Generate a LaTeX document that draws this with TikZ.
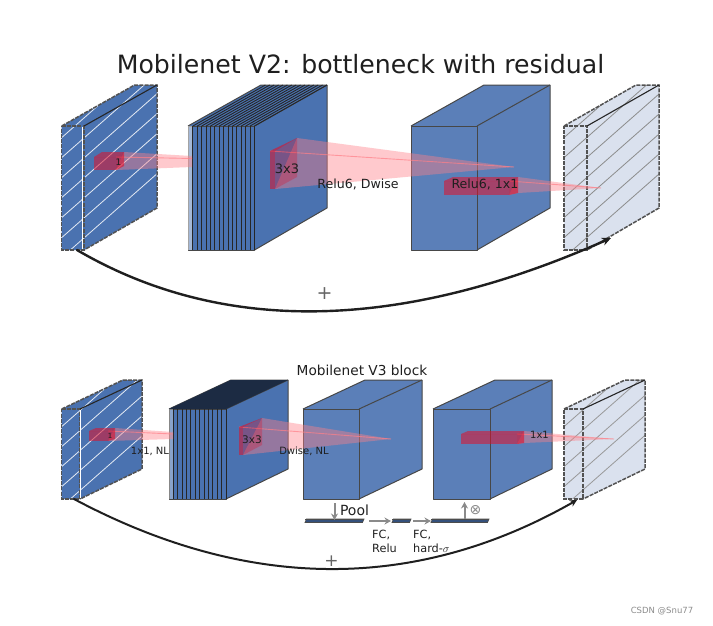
\documentclass[tikz,border=0pt]{standalone}
\usepackage{fontspec}
\setmainfont{DejaVu Sans}
\usetikzlibrary{arrows.meta}
\definecolor{blueA}{HTML}{4A72B0}
\definecolor{blueB}{HTML}{5B7FB8}
\definecolor{paleB}{HTML}{DAE1EE}
\definecolor{inkC}{HTML}{1F1F1F}
\definecolor{greyC}{HTML}{8A8A8A}
\definecolor{redC}{HTML}{E0102A}
\definecolor{pinkC}{HTML}{FF8088}
\tikzset{
  lab/.style={inner sep=0pt,text=inkC,font=\fontsize{#1}{#1}\selectfont},
  solidedge/.style={draw=black!72,line width=1pt,line join=round},
  hatchedge/.style={draw=black!68,line width=1.5pt,dash pattern=on 4pt off 1.2pt},
  coneA/.style={fill=pinkC,fill opacity=.42,draw=none},
  coneB/.style={draw=pinkC,draw opacity=.7,line width=.9pt},
  boxred/.style={fill=redC,fill opacity=.55,draw=none},
  boxside/.style={fill=redC,fill opacity=.6,draw=none},
  boxwide/.style={fill=redC,fill opacity=.3,draw=none},
  skip/.style={-{Stealth[length=9pt,width=8pt]},draw=inkC,line cap=round},
  greyarrow/.style={-{Stealth[length=6.5pt,width=7pt]},draw=greyC},
  flatbar/.style={fill=blueA!70!black,draw=black!70,line width=.7pt}
}
% #1 x-front-left #2 x-front-right #3 x-back-left #4 x-back-right #5 top #6 bottom #7 back-top #8 back-bottom #9 fill
\newcommand{\solidcube}[9]{
  \fill[#9] (#1,#5)--(#2,#5)--(#4,#7)--(#4,#8)--(#2,#6)--(#1,#6)--cycle;
  \fill[#9] (#1,#5)--(#3,#7)--(#4,#7)--(#2,#5)--cycle;
  \draw[solidedge] (#1,#5)--(#2,#5)--(#2,#6)--(#1,#6)--cycle;
  \draw[solidedge] (#1,#5)--(#3,#7)--(#4,#7)--(#4,#8)--(#2,#6);
  \draw[solidedge] (#2,#5)--(#4,#7);
}
\newcommand{\hatchcube}[9]{
  \fill[#9] (#1,#5)--(#2,#5)--(#4,#7)--(#4,#8)--(#2,#6)--(#1,#6)--cycle;
  \fill[#9] (#1,#5)--(#3,#7)--(#4,#7)--(#2,#5)--cycle;
  \begin{scope}
    \clip (#1,#5)--(#3,#7)--(#4,#7)--(#4,#8)--(#2,#6)--(#1,#6)--cycle;
    \foreach \k in {0,...,28}{
      \draw[\hatchcol,line width=.8pt] (#1-5,#6+12-\k*20)--(#4+5,#6+12-\k*20-.88*#4-8.8+.88*#1);
    }
  \end{scope}
  \draw[hatchedge] (#1,#5)--(#2,#5)--(#2,#6)--(#1,#6)--cycle;
  \draw[hatchedge] (#1,#5)--(#3,#7)--(#4,#7)--(#4,#8)--(#2,#6);
  \draw[draw=black!85,line width=1.1pt] (#2,#5)--(#4,#7);
}
\newcommand{\stacklines}[7]{
  \foreach \k in {1,...,#3}{
    \draw[black!85,line width=1pt] (#2-\k*#4+#4,#5)--(#2-\k*#4+#4,#6);
    \draw[black!85,line width=.9pt] (#2-\k*#4+#4,#5)--(#2-\k*#4+#4+#7,#5-41);
  }
}
\begin{document}
\begin{tikzpicture}[x=1pt,y=-1pt]
\useasboundingbox (0,0) rectangle (713,625);
\fill[white] (0,0) rectangle (713,625);

% ---------- V2 ----------
\def\hatchcol{white!85!blueA}
\hatchcube{61.7}{84}{134.5}{157}{126}{250}{85}{208}{blueA}
\draw[white,line width=1pt] (82.5,127)--(82.5,249);
\solidcube{188}{254.5}{261}{327}{126}{250}{85}{208}{blueA}
\fill[white,fill opacity=.5] (188,126) rectangle (193,250);
\stacklines{188}{254.5}{15}{4.4}{126}{250}{72.5}
\solidcube{411}{477}{484}{550}{126}{250}{85}{208}{blueB}
\def\hatchcol{black!45}
\hatchcube{564}{587}{636}{659}{126}{250}{85}{208}{paleB}

% red V2
\fill[coneA] (124,152)--(192,156)--(192,167)--(116,170)--cycle;
\draw[coneB] (116,157)--(192,158.5);
\fill[boxred] (94,157)--(116,157)--(116,170)--(94,170)--cycle;
\fill[boxred] (94,157)--(102,152)--(124,152)--(116,157)--cycle;
\fill[boxside] (116,157)--(124,152)--(124,166)--(116,170)--cycle;

\fill[coneA] (297,138)--(514,167)--(275,189)--cycle;
\draw[coneB] (270,151)--(514,167);
\fill[boxred] (270,151)--(275,151)--(275,189)--(270,189)--cycle;
\fill[boxside] (270,151)--(275,151)--(297,138)--cycle;
\fill[boxwide] (275,151)--(297,138)--(297,177)--(275,189)--cycle;

\fill[coneA] (518,177)--(601,188)--(518,193)--(509,195)--cycle;
\draw[coneB] (509,181)--(601,188);
\fill[boxred] (444,181)--(509,181)--(509,195)--(444,195)--cycle;
\fill[boxred] (444,181)--(453,177)--(518,177)--(509,181)--cycle;
\fill[boxside] (509,181)--(518,177)--(518,193)--(509,195)--cycle;

% ---------- V3 ----------
\def\hatchcol{white!85!blueA}
\hatchcube{61.7}{80}{123}{142}{409}{499}{380}{469}{blueA}
\draw[white,line width=.8pt] (80,410)--(80,498);
\solidcube{169}{226}{231}{288}{409}{499}{380}{469}{blueA}
\fill[black!62!blueA] (169,409)--(226,409)--(288,380)--(231,380)--cycle;
\foreach \k in {1,...,13}{\draw[black!85,line width=1pt] (226-\k*4.4+4.4,409)--(226-\k*4.4+4.4,499);}
\fill[white,fill opacity=.35] (169,409) rectangle (173,499);
\solidcube{303}{359}{365}{422}{409}{499}{380}{469}{blueB}
\solidcube{433}{490}{495}{552}{409}{499}{380}{469}{blueB}
\def\hatchcol{black!40}
\hatchcube{564}{583}{625}{645}{409}{499}{380}{469}{paleB}

% red V3
\fill[coneA] (115,428)--(173,432)--(173,439)--(108,441)--cycle;
\draw[coneB] (108,431)--(173,434);
\fill[boxred] (89,431)--(108,431)--(108,441)--(89,441)--cycle;
\fill[boxred] (89,431)--(96,428)--(115,428)--(108,431)--cycle;
\fill[boxside] (108,431)--(115,428)--(115,439)--(108,441)--cycle;

\fill[coneA] (262,418)--(391,439)--(243,455)--cycle;
\draw[coneB] (239,427)--(391,439);
\fill[boxred] (239,427)--(243,427)--(243,455)--(239,455)--cycle;
\fill[boxside] (239,427)--(243,427)--(262,418)--cycle;
\fill[boxwide] (243,427)--(262,418)--(262,445)--(243,455)--cycle;

\fill[coneA] (524,431)--(614,439)--(524,443)--(517,444)--cycle;
\draw[coneB] (517,434)--(614,439);
\fill[boxred] (461,434)--(517,434)--(517,444)--(461,444)--cycle;
\fill[boxred] (461,434)--(468,431)--(524,431)--(517,434)--cycle;
\fill[boxside] (517,434)--(524,431)--(524,443)--(517,444)--cycle;

% squeeze-excite strip
\fill[flatbar] (305,522.5)--(306.5,519)--(364,519)--(362.5,522.5)--cycle;
\fill[flatbar] (392,522.5)--(393.5,519)--(411,519)--(409.5,522.5)--cycle;
\fill[flatbar] (431,522.5)--(432.5,519)--(489,519)--(487.5,522.5)--cycle;
\draw[black!70,line width=.8pt] (305,519.5)--(364,519.5) (392,519.5)--(411,519.5) (431,519.5)--(489,519.5);
\coordinate (poolA) at (334.5,503); \coordinate (poolB) at (334.5,520);
\coordinate (fcA) at (369,521); \coordinate (fcB) at (391,521);
\coordinate (fcC) at (413,521); \coordinate (fcD) at (431,521);
\coordinate (upA) at (464.5,519); \coordinate (upB) at (464.5,502);
\draw[greyarrow,line width=2pt] (poolA)--(poolB);
\draw[greyarrow,line width=1.5pt] (fcA)--(fcB);
\draw[greyarrow,line width=1.5pt] (fcC)--(fcD);
\draw[greyarrow,line width=2pt] (upA)--(upB);

% skip connections
\coordinate (v2from) at (77,250); \coordinate (v2to) at (611,238);
\coordinate (v3from) at (74,499); \coordinate (v3to) at (577,500);
\draw[skip,line width=2.4pt] (v2from) .. controls (223,335.3) and (401,331.3) .. (v2to);
\draw[skip,line width=2pt,-{Stealth[length=7pt,width=7pt]}] (v3from) .. controls (248,591.7) and (415.7,592) .. (v3to);

% texts
\node[lab=25.2] (title) at (360.5,64) {Mobilenet V2: bottleneck with residual};
\node[lab=9] (one) at (118.5,162) {1};
\node[lab=13] (t3x3) at (287,169) {3x3};
\node[lab=12.6] (rd) at (358,184) {Relu6, Dwise};
\node[lab=12.6] (r1) at (485,184) {Relu6, 1x1};
\node[lab=19,text=black!60] (plusA) at (324.5,293.5) {+};
\node[lab=13.7] (vt) at (362,370.5) {Mobilenet V3 block};
\node[lab=7] (oneb) at (110,436) {1};
\node[lab=10] (nl) at (150,451) {1x1, NL};
\node[lab=10.5] (t3b) at (252,440) {3x3};
\node[lab=10] (dw) at (304,451) {Dwise, NL};
\node[lab=10] (r1b) at (539.5,434.5) {1x1};
\node[lab=14] (pool) at (354.5,510.5) {Pool};
\node[lab=14,text=greyC] (otimes) at (475.5,510.5) {⊗};
\node[lab=11.3,anchor=west] (fcaa) at (372,535) {FC,};
\node[lab=11.3,anchor=west] (fcab) at (372,548.5) {Relu};
\node[lab=11.3,anchor=west] (fcba) at (413,535) {FC,};
\node[lab=11.3,anchor=west] (fcbb) at (413,548.5) {hard-$\sigma$};
\node[lab=17,text=black!60] (plusB) at (331.5,561) {+};
\node[lab=8.5,text=black!45] (mark) at (662,611) {CSDN @Snu77};
\end{tikzpicture}
\end{document}
